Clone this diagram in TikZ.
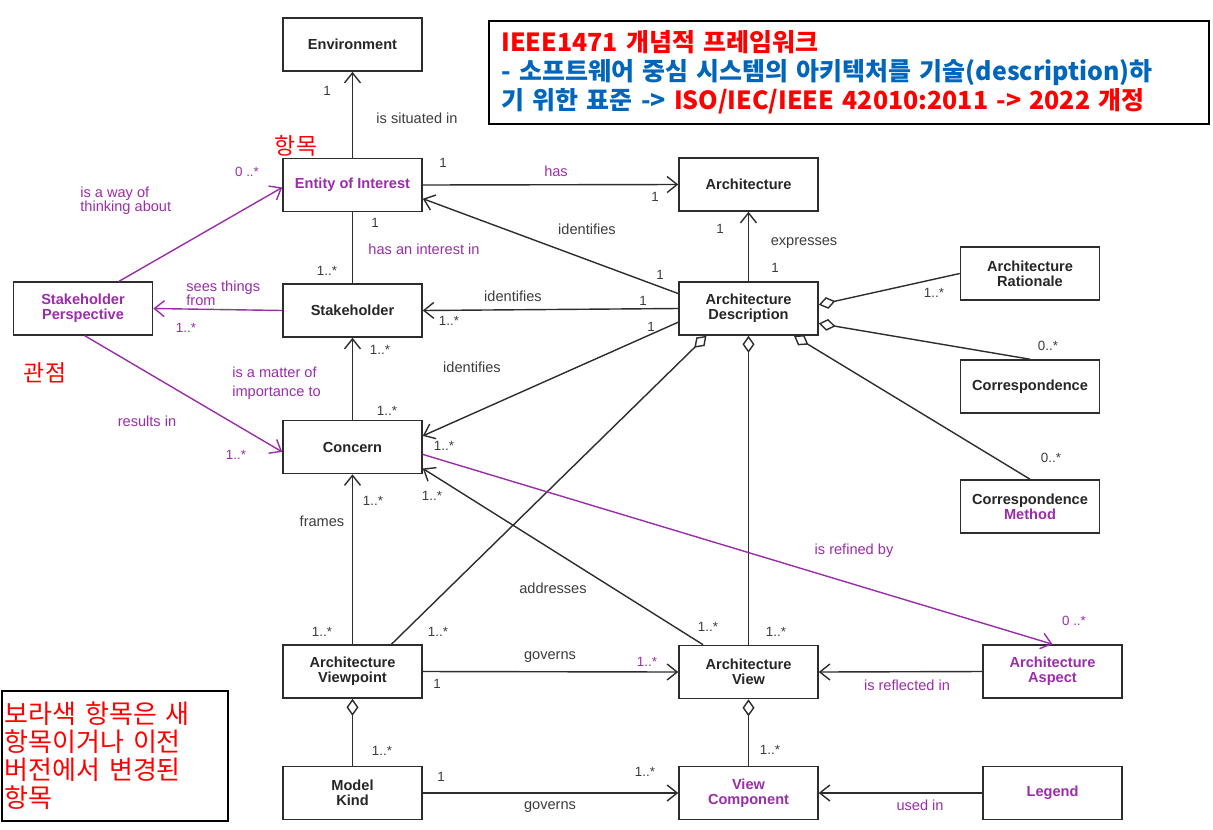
\documentclass[tikz,border=0pt]{standalone}
\usepackage{fontspec}
\usepackage{tikz}
\usepackage{xcolor}
\usetikzlibrary{arrows.meta}
\setmainfont{Liberation Sans}
\newfontfamily\krfont{Noto Sans CJK KR}
\definecolor{NewColor}{RGB}{155,45,170}
\definecolor{LineColor}{RGB}{45,45,45}
\definecolor{TextColor}{RGB}{60,60,60}
\definecolor{NoteRed}{RGB}{255,0,0}
\definecolor{NoteBlue}{RGB}{0,102,187}

\begin{document}
\begin{tikzpicture}[x=0.02cm, y=-0.02cm,
    box/.style={draw=LineColor, line width=0.9pt, fill=white, minimum width=2.78cm, minimum height=1.06cm, align=center, inner sep=1pt, text=black!85, font=\bfseries\fontsize{8.3}{8.7}\selectfont},
    newbox/.style={box, text=NewColor},
    rel/.style={draw=LineColor, line width=0.8pt},
    nav/.style={rel, -{Straight Barb[length=2mm,width=3.2mm]}},
    agg/.style={rel, {Diamond[open,length=3.4mm,width=2.4mm]}-},
    lbl/.style={text=TextColor, inner sep=0pt, font=\fontsize{8.3}{8.2}\selectfont},
    mult/.style={lbl, font=\fontsize{7.6}{9}\selectfont},
    newlbl/.style={lbl, text=NewColor},
    newmult/.style={mult, text=NewColor},
    kr/.style={text=NoteRed, inner sep=0pt, font=\krfont\fontsize{13}{15}\selectfont}]
  \useasboundingbox (0,0) rectangle (1213,829);

  \node[box] (env) at (352.5,44.5) {Environment};
  \node[newbox] (eoi) at (352.5,185) {Entity of Interest};
  \node[box] (arch) at (748.5,184.5) {Architecture};
  \node[newbox] (sp) at (83,308.5) {Stakeholder\\Perspective};
  \node[box] (sh) at (352.5,310.5) {Stakeholder};
  \node[box] (ad) at (748.5,308.5) {Architecture\\Description};
  \node[box] (ar) at (1030,273.5) {Architecture\\Rationale};
  \node[box] (corr) at (1030,386.5) {Correspondence};
  \node[box] (concern) at (352.5,447) {Concern};
  \node[box] (cm) at (1030,506.5) {Correspondence\\\textcolor{NewColor}{Method}};
  \node[box] (avp) at (352.5,671.5) {Architecture\\Viewpoint};
  \node[box] (av) at (748.5,672) {Architecture\\View};
  \node[newbox] (aa) at (1052.5,671.5) {Architecture\\Aspect};
  \node[box] (mk) at (352.5,793) {Model\\Kind};
  \node[newbox] (vc) at (748.5,793) {View\\Component};
  \node[newbox] (leg) at (1052.5,793) {Legend};

  \draw[nav] (eoi.north) -- (env.south);
  \draw[nav] (eoi.east) -- (arch.west);
  \draw[rel] (eoi.south) -- (sh.north);
  \draw[nav] (ad.168) -- (eoi.-11);
  \draw[nav] (ad.north) -- (arch.south);
  \draw[nav] (ad.west) -- (sh.east);
  \draw[nav] (ad.191) -- (concern.9);
  \draw[agg] (ad.3) -- (ar.west);
  \draw[agg] (ad.-12) -- (corr.north);
  \draw[agg] (ad.-31) -- (cm.north);
  \draw[agg] (ad.213) -- (avp.35);
  \draw[agg] (ad.south) -- (av.north);
  \draw[nav, NewColor] (sp.37) -- (eoi.182);
  \draw[nav, NewColor] (sh.west) -- (sp.east);
  \draw[nav, NewColor] (sp.-86) -- (concern.184);
  \draw[nav] (concern.north) -- (sh.south);
  \draw[nav] (avp.north) -- (concern.south);
  \draw[nav] (av.149) -- (concern.-17);
  \draw[nav, NewColor] (concern.-6) -- (aa.north);
  \draw[nav] (avp.east) -- (av.west);
  \draw[nav] (aa.west) -- (av.east);
  \draw[agg] (avp.south) -- (mk.north);
  \draw[agg] (av.south) -- (vc.north);
  \draw[nav] (mk.east) -- (vc.west);
  \draw[nav] (leg.west) -- (vc.east);

  \node[mult] (m1) at (327,91) {1};
  \node[lbl] (l1) at (417,118) {is situated in};
  \node[newmult] (m2) at (247,172) {0 ..*};
  \node[newlbl, align=left, anchor=west] (l2) at (80,201) {is a way of\\thinking about};
  \node[mult] (m3) at (443,163) {1};
  \node[newlbl] (l3) at (556,171) {has};
  \node[mult] (m4) at (655,197) {1};
  \node[lbl] (l4) at (587,229) {identifies};
  \node[mult] (m5) at (375,223) {1};
  \node[newlbl] (l5) at (424,249) {has an interest in};
  \node[mult] (m6) at (327,271) {1..*};
  \node[mult] (m7) at (720,229) {1};
  \node[lbl] (l6) at (804,243) {expresses};
  \node[mult] (m8) at (775,268) {1};
  \node[mult] (m9) at (660,275) {1};
  \node[newlbl, align=left, anchor=west] (l7) at (186,293) {sees things\\from};
  \node[newmult] (m10) at (186,328) {1..*};
  \node[lbl] (l8) at (513,296) {identifies};
  \node[mult] (m11) at (643,301) {1};
  \node[mult] (m12) at (449,321) {1..*};
  \node[mult] (m13) at (651,327) {1};
  \node[mult] (m14) at (934,293) {1..*};
  \node[mult] (m15) at (1048,346) {0..*};
  \node[mult] (m16) at (380,350) {1..*};
  \node[newlbl, align=left, anchor=west, font=\fontsize{8.3}{10.5}\selectfont] (l9) at (232,383) {is a matter of\\importance to};
  \node[lbl] (l10) at (472,367) {identifies};
  \node[newlbl] (l11) at (147,421) {results in};
  \node[mult] (m17) at (387,411) {1..*};
  \node[newmult] (m18) at (236,455) {1..*};
  \node[mult] (m19) at (444,446) {1..*};
  \node[mult] (m20) at (1051,458) {0..*};
  \node[mult] (m21) at (373,501) {1..*};
  \node[mult] (m22) at (432,496) {1..*};
  \node[lbl] (l12) at (322,521) {frames};
  \node[newlbl] (l13) at (854,551) {is refined by};
  \node[lbl] (l14) at (553,588) {addresses};
  \node[newmult] (m23) at (1074,621) {0 ..*};
  \node[mult] (m24) at (322,632) {1..*};
  \node[mult] (m25) at (438,632) {1..*};
  \node[mult] (m26) at (708,627) {1..*};
  \node[mult] (m27) at (776,632) {1..*};
  \node[lbl] (l15) at (550,657) {governs};
  \node[newmult] (m28) at (647,662) {1..*};
  \node[mult] (m29) at (437,684) {1};
  \node[newlbl] (l16) at (907,685) {is reflected in};
  \node[mult] (m30) at (382,751) {1..*};
  \node[mult] (m31) at (770,750) {1..*};
  \node[mult] (m32) at (441,777) {1};
  \node[mult] (m33) at (645,772) {1..*};
  \node[lbl] (l17) at (550,807) {governs};
  \node[newlbl] (l18) at (920,805) {used in};

  \node[kr] (k1) at (296,146) {항목};
  \node[kr] (k2) at (45,373) {관점};

  \node[draw=black, line width=1.1pt, anchor=north west, minimum width=14.36cm, minimum height=2.06cm, text width=13.9cm, inner xsep=0.25cm, align=left, font=\krfont\bfseries\fontsize{14.2}{16.6}\selectfont] (title) at (488,20) {\textcolor{NoteRed}{IEEE1471 개념적 프레임워크}\\\textcolor{NoteBlue}{- 소프트웨어 중심 시스템의 아키텍처를 기술(description)하}\\\textcolor{NoteBlue}{기 위한 표준 ->} \textcolor{NoteRed}{ISO/IEC/IEEE 42010:2011 -> 2022 개정}};
  \node[draw=black, line width=0.9pt, anchor=north west, minimum width=4.52cm, minimum height=2.6cm, text width=4.4cm, inner xsep=0.05cm, align=left, text=NoteRed, font=\krfont\fontsize{14.8}{15.9}\selectfont] (note) at (1,690) {보라색 항목은 새\\항목이거나 이전\\버전에서 변경된\\항목};
\end{tikzpicture}
\end{document}
